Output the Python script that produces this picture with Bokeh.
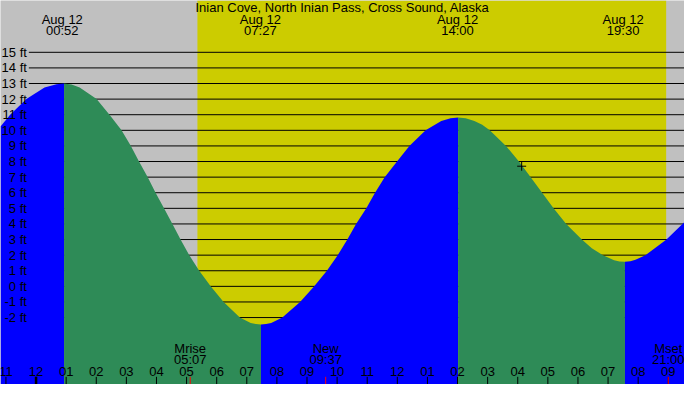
from bokeh.core.properties import value
from bokeh.embed import file_html
from bokeh.models import BoxAnnotation
from bokeh.plotting import figure
from bokeh.resources import INLINE

title = "Inian Cove, North Inian Pass, Cross Sound, Alaska"

# tide height: hours after midnight Aug 12 -> feet
tide_hours = [-1.18, -0.86, -0.32, 0.28, 0.68, 0.93, 1.18, 1.45, 2.01, 2.44,
              2.84, 3.15, 3.42, 3.71, 3.97, 4.25, 4.53, 4.80, 5.09, 5.42,
              5.80, 6.23, 6.77, 7.13, 7.30, 7.47, 7.64, 7.81, 8.18, 8.77,
              9.24, 9.66, 10.02, 10.34, 10.63, 10.97, 11.26, 11.58, 11.99,
              12.40, 12.94, 13.46, 13.77, 14.02, 14.27, 14.56, 14.82, 15.07,
              15.61, 16.04, 16.43, 16.81, 17.19, 17.61, 18.13, 18.46, 18.83,
              19.20, 19.38, 19.56, 19.74, 19.91, 20.24, 20.94, 21.54]
tide_feet = [10.25, 11.0, 12.0, 12.75, 12.95, 13.0, 12.94, 12.75, 12.0, 11.0,
             10.0, 9.0, 8.0, 7.0, 6.0, 5.0, 4.0, 3.0, 2.0, 1.0,
             0.0, -1.0, -2.0, -2.35, -2.42, -2.45, -2.42, -2.35, -2.0, -1.0,
             0.0, 1.0, 2.0, 3.0, 4.0, 5.0, 6.0, 7.0, 8.0,
             9.0, 10.0, 10.6, 10.77, 10.82, 10.77, 10.6, 10.35, 10.0,
             9.0, 8.0, 7.0, 6.0, 5.0, 4.0, 3.0, 2.45, 2.0,
             1.68, 1.6, 1.58, 1.61, 1.7, 2.0, 3.0, 4.13]

# high / low tides
extreme_hours = [0.93, 7.47, 14.02, 19.56]
extreme_label_hours = [0.87, 7.45, 14.0, 19.5]
extreme_dates = ["Aug 12", "Aug 12", "Aug 12", "Aug 12"]
extreme_times = ["00:52", "07:27", "14:00", "19:30"]

sunrise, sunset = 5.36, 20.93

moon_hours = [5.12, 9.62, 21.0]
moon_events = ["Mrise", "New", "Mset"]
moon_times = ["05:07", "09:37", "21:00"]

hour_ticks = list(range(-1, 22))
hour_labels = ["11", "12", "01", "02", "03", "04", "05", "06", "07", "08",
               "09", "10", "11", "12", "01", "02", "03", "04", "05", "06",
               "07", "08", "09"]

levels = list(range(-2, 16))
level_labels = ["%d ft" % v for v in levels]

now_hour, now_feet = 16.13, 7.7

########################## LAYOUT ##########################
X0, X1 = -1.181, 21.539
Y0, Y1 = -6.29, 18.32
W, H = 684, 384


def fx(px):
    # reference pixel (700 wide) -> hours
    return X0 + px / 700 * (X1 - X0)


def fy(py):
    # reference pixel (400 tall) -> feet
    return Y1 - py / 400 * (Y1 - Y0)


p = figure(width=W, height=H, x_range=(X0, X1), y_range=(Y0, Y1),
           output_backend="svg", toolbar_location=None, min_border=0)
p.axis.visible = False
p.grid.grid_line_color = None
p.outline_line_color = None
p.background_fill_color = "#c0c0c0"
p.border_fill_color = "#c0c0c0"

p.add_layout(BoxAnnotation(left=sunrise, right=sunset, fill_color="#cccc00",
                           fill_alpha=1, line_color=None, level="underlay"))

p.segment(x0=[fx(29)] * len(levels), y0=levels, x1=[X1] * len(levels),
          y1=levels, line_color="black", line_width=1)

# tide: blue while rising, green while falling
cuts = [0] + [tide_hours.index(h) for h in extreme_hours] + [len(tide_hours) - 1]
for a, b in zip(cuts[:-1], cuts[1:]):
    xs = tide_hours[a:b + 1]
    ys = tide_feet[a:b + 1]
    color = "#0000ff" if ys[-1] > ys[0] else "#2e8b57"
    p.varea(x=xs, y1=[Y0] * len(xs), y2=ys, fill_color=color)

font = value("Liberation Sans")
txt = dict(text_font=font, text_font_size="13px", text_color="black",
           text_baseline="middle")

p.text(x=[fx(27)] * len(levels), y=levels, text=level_labels,
       text_align="right", **txt)

p.text(x=[fx(350)], y=[fy(7.5)], text=[title], text_align="center", **txt)
p.text(x=extreme_label_hours, y=[fy(20)] * 4, text=extreme_dates,
       text_align="center", **txt)
p.text(x=extreme_label_hours, y=[fy(31.5)] * 4, text=extreme_times,
       text_align="center", **txt)

p.text(x=hour_ticks, y=[fy(386)] * len(hour_ticks), text=hour_labels,
       text_align="center", **txt)
p.text(x=moon_hours, y=[fy(362)] * 3, text=moon_events,
       text_align="center", **txt)
p.text(x=moon_hours, y=[fy(374)] * 3, text=moon_times,
       text_align="center", **txt)

p.segment(x0=hour_ticks, y0=[fy(392)] * len(hour_ticks), x1=hour_ticks,
          y1=[Y0] * len(hour_ticks), line_color="black", line_width=1)
p.segment(x0=[0], y0=[fy(392)], x1=[0], y1=[Y0], line_color="black",
          line_width=2.5)
p.segment(x0=moon_hours, y0=[fy(392)] * 3, x1=moon_hours, y1=[Y0] * 3,
          line_color="#ff0000", line_width=1)

p.scatter(x=[now_hour], y=[now_feet], marker="cross", size=9,
          line_color="black", line_width=1)

open("out.html", "w").write(file_html(p, INLINE))
